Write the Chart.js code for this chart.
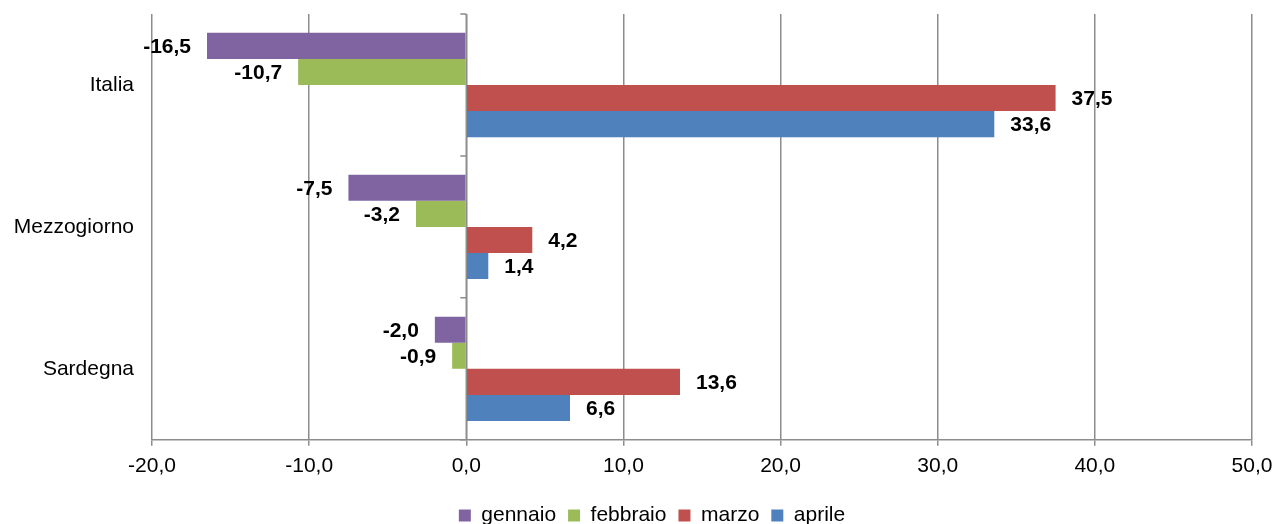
<!DOCTYPE html>
<html>
<head>
<meta charset="utf-8">
<script src="https://cdn.jsdelivr.net/npm/chart.js@4/dist/chart.umd.min.js"></script>
<style>
  html, body { margin: 0; padding: 0; background: #fff; }
  #wrap { width: 1276px; height: 524px; }
</style>
</head>
<body>
<div id="wrap"><canvas id="chart" width="1276" height="524"></canvas></div>
<script>
// data
const regions = ['Italia', 'Mezzogiorno', 'Sardegna'];
const months = ['gennaio', 'febbraio', 'marzo', 'aprile'];
const gennaio = [-16.5, -7.5, -2.0];
const febbraio = [-10.7, -3.2, -0.9];
const marzo = [37.5, 4.2, 13.6];
const aprile = [33.6, 1.4, 6.6];
const xTicks = [-20, -10, 0, 10, 20, 30, 40, 50];

const colors = ['#8064A2', '#9BBB59', '#C0504D', '#4F81BD'];
const gridColor = '#8c8c8c';
const fontFamily = '"Liberation Sans", Arial, sans-serif';

function fmt(v) {
    return v.toFixed(1).replace('.', ',');
}

// value labels at the end of each bar
const valueLabels = {
    id: 'valueLabels',
    afterDatasetsDraw(chart) {
        const ctx = chart.ctx;
        ctx.save();
        ctx.font = 'bold 21px ' + fontFamily;
        ctx.fillStyle = '#000';
        ctx.textBaseline = 'middle';
        chart.data.datasets.forEach((ds, i) => {
            chart.getDatasetMeta(i).data.forEach((bar, j) => {
                const v = ds.data[j];
                if (v < 0) {
                    ctx.textAlign = 'right';
                    ctx.fillText(fmt(v), bar.x - 16, bar.y + 1);
                } else {
                    ctx.textAlign = 'left';
                    ctx.fillText(fmt(v), bar.x + 16, bar.y + 1);
                }
            });
        });
        ctx.restore();
    }
};

// vertical axis line at zero with tick marks between the categories
const zeroAxis = {
    id: 'zeroAxis',
    afterLayout(chart) {
        // legend sits a bit right of the canvas centre
        chart.legend.left += 26;
        chart.legend.right += 26;
    },
    afterDatasetsDraw(chart) {
        const ctx = chart.ctx;
        const x0 = chart.scales.x.getPixelForValue(0);
        const area = chart.chartArea;
        const step = (area.bottom - area.top) / regions.length;
        ctx.save();
        ctx.strokeStyle = gridColor;
        ctx.lineWidth = 1.5;
        ctx.beginPath();
        ctx.moveTo(x0, area.top);
        ctx.lineTo(x0, area.bottom);
        for (let k = 0; k <= regions.length; k++) {
            const y = area.top + k * step;
            ctx.moveTo(x0 - 6, y);
            ctx.lineTo(x0, y);
        }
        ctx.stroke();
        ctx.restore();
    }
};

const chart = new Chart(document.getElementById('chart').getContext('2d'), {
    type: 'bar',
    data: {
        labels: regions,
        datasets: [gennaio, febbraio, marzo, aprile].map((d, i) => ({
            label: months[i],
            data: d,
            backgroundColor: colors[i],
            borderWidth: 0,
            categoryPercentage: 0.735,
            barPercentage: 1.0
        }))
    },
    options: {
        indexAxis: 'y',
        responsive: false,
        animation: false,
        layout: { padding: { top: 14, right: 24, left: 0, bottom: -12 } },
        plugins: {
            tooltip: { enabled: false },
            legend: {
                position: 'bottom',
                labels: {
                    boxWidth: 12,
                    boxHeight: 12,
                    padding: 12,
                    color: '#000',
                    font: { family: fontFamily, size: 21 }
                }
            }
        },
        scales: {
            x: {
                min: -20,
                max: 50,
                afterBuildTicks: s => { s.ticks = xTicks.map(v => ({ value: v })); },
                afterFit: s => { s.paddingLeft = 0; s.paddingRight = 0; s.height += 6; },
                ticks: {
                    color: '#000',
                    padding: 8,
                    font: { family: fontFamily, size: 21 },
                    callback: v => fmt(v)
                },
                grid: { color: gridColor, lineWidth: 1.5, tickLength: 6 },
                border: { color: gridColor, width: 1.5 }
            },
            y: {
                afterFit: s => { s.width = 152; s.paddingTop = 0; s.paddingBottom = 0; },
                ticks: {
                    color: '#000',
                    padding: 10,
                    font: { family: fontFamily, size: 21 }
                },
                grid: { display: false },
                border: { display: false }
            }
        }
    },
    plugins: [valueLabels, zeroAxis]
});
</script>
</body>
</html>
